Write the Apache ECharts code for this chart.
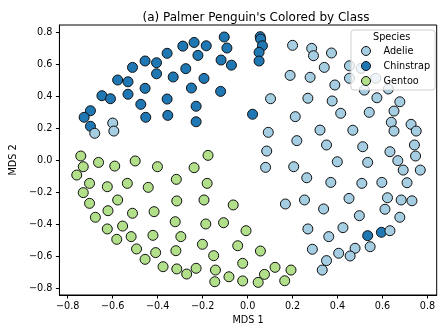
<!DOCTYPE html>
<html>
<head>
<meta charset="utf-8">
<script src="https://cdn.jsdelivr.net/npm/echarts@6/dist/echarts.min.js"></script>
<style>html,body{margin:0;padding:0;background:#fff}#c{width:448px;height:336px}</style>
</head>
<body>
<div id="c"></div>
<script>
const titleText = "(a) Palmer Penguin's Colored by Class";
const xName = "MDS 1";
const yName = "MDS 2";
const legendTitle = "Species";
const speciesNames = ["Adelie", "Chinstrap", "Gentoo"];
const tickValues = [-0.8, -0.6, -0.4, -0.2, 0.0, 0.2, 0.4, 0.6, 0.8];

const adelie = [
[-0.600,0.233],[-0.595,0.183],[-0.680,0.169],
[0.200,0.719],[0.189,0.531],[0.102,0.385],[0.212,0.273],[0.092,0.175],
[0.285,0.700],[0.293,0.654],[0.373,0.671],[0.341,0.581],[0.453,0.591],[0.505,0.575],
[0.278,0.519],[0.388,0.471],[0.453,0.513],[0.570,0.513],[0.519,0.439],[0.626,0.446],
[0.268,0.388],[0.376,0.371],[0.575,0.391],[0.677,0.366],
[0.414,0.294],[0.541,0.300],[0.651,0.308],
[0.322,0.189],[0.468,0.188],[0.639,0.238],[0.651,0.183],[0.727,0.225],[0.750,0.183],
[0.219,0.123],[0.351,0.096],[0.512,0.085],[0.742,0.096],[0.633,0.054],[0.747,0.027],
[0.668,-0.002],[0.399,-0.009],[0.534,-0.013],[0.205,-0.040],[0.692,-0.061],[0.768,-0.061],
[0.263,-0.109],[0.370,-0.138],[0.508,-0.144],[0.597,-0.138],[0.709,-0.140],
[0.253,-0.248],[0.451,-0.238],[0.622,-0.234],[0.683,-0.248],[0.731,-0.253],
[0.338,-0.304],[0.611,-0.306],[0.497,-0.346],[0.677,-0.356],
[0.268,-0.429],[0.424,-0.421],[0.361,-0.477],[0.633,-0.440],
[0.288,-0.556],[0.478,-0.550],[0.545,-0.540],[0.405,-0.581],[0.456,-0.598],[0.351,-0.627],[0.332,-0.686],
[0.085,0.058],[0.080,-0.044],[0.168,-0.273]
];

const chinstrap = [
[-0.288,0.714],[-0.358,0.669],[-0.456,0.621],[-0.405,0.610],[-0.512,0.581],[-0.275,0.573],
[-0.405,0.541],[-0.331,0.521],[-0.578,0.502],[-0.532,0.491],[-0.456,0.450],[-0.250,0.452],
[-0.648,0.404],[-0.610,0.385],[-0.532,0.413],[-0.358,0.383],[-0.475,0.350],[-0.699,0.310],
[-0.727,0.269],[-0.453,0.269],[-0.355,0.281],[-0.699,0.213],[-0.238,0.737],[-0.184,0.716],
[-0.221,0.656],[-0.104,0.771],[-0.092,0.702],[0.056,0.773],[0.058,0.758],[0.066,0.716],
[0.051,0.675],[0.051,0.621],[-0.118,0.627],[-0.072,0.595],[-0.194,0.512],[-0.120,0.431],
[-0.229,0.338],[-0.229,0.241],[0.022,0.288],[0.534,-0.471],[0.595,-0.450]
];

const gentoo = [
[-0.742,0.027],[-0.731,-0.040],[-0.760,-0.092],[-0.663,-0.013],[-0.591,-0.036],[-0.500,-0.004],[-0.401,-0.040],
[-0.176,0.031],[-0.238,-0.046],[-0.317,-0.119],[-0.180,-0.144],
[-0.703,-0.144],[-0.624,-0.165],[-0.535,-0.144],[-0.442,-0.169],[-0.731,-0.202],
[-0.703,-0.269],[-0.578,-0.248],[-0.315,-0.254],[-0.194,-0.248],[-0.064,-0.279],
[-0.621,-0.315],[-0.512,-0.331],[-0.416,-0.321],[-0.677,-0.356],
[-0.322,-0.384],[-0.186,-0.398],[-0.107,-0.390],[-0.007,-0.440],
[-0.624,-0.429],[-0.556,-0.411],[-0.582,-0.494],[-0.518,-0.477],[-0.421,-0.469],[-0.297,-0.477],
[-0.494,-0.554],[-0.409,-0.577],[-0.319,-0.565],[-0.456,-0.619],[-0.376,-0.665],[-0.315,-0.679],[-0.271,-0.711],
[-0.201,-0.525],[-0.151,-0.596],[-0.044,-0.534],[0.057,-0.567],
[-0.229,-0.675],[-0.143,-0.686],[-0.146,-0.759],[-0.083,-0.728],[-0.022,-0.644],[-0.022,-0.754],
[0.047,-0.763],[0.075,-0.713],[0.122,-0.669],[0.165,-0.753],[0.193,-0.686]
];

const colors = {Adelie: "#a6cee3", Chinstrap: "#1f78b4", Gentoo: "#b2df8a"};
const FONT = "DejaVu Sans";
const fmt = v => (v < 0 ? "\u2212" : "") + Math.abs(v).toFixed(1);

function mkSeries(name, data, z) {
  return {
    name: name, type: "scatter", data: data, symbol: "circle", symbolSize: 10, z: z,
    itemStyle: {color: colors[name], borderColor: "#111", borderWidth: 1, opacity: 1},
    emphasis: {disabled: true}, animation: false
  };
}

const chart = echarts.init(document.getElementById("c"), null, {renderer: "canvas"});
chart.setOption({
  animation: false,
  backgroundColor: "#fff",
  title: {text: titleText, left: 251, top: 7, textAlign: "center",
    textStyle: {fontFamily: FONT, fontSize: 12, fontWeight: "normal", color: "#000"}},
  grid: {left: 54.3, right: 11.3, top: 25, bottom: 41, show: true, borderColor: "#000", borderWidth: 1, containLabel: false},
  xAxis: {
    type: "value", min: -0.837, max: 0.841, name: xName, nameLocation: "middle", nameGap: 19,
    nameTextStyle: {fontFamily: FONT, fontSize: 9.7, color: "#000", verticalAlign: "top"},
    axisLine: {show: true, onZero: false, lineStyle: {color: "#000", width: 1}},
    axisTick: {show: true, inside: false, length: 3.5, lineStyle: {color: "#000"}, customValues: tickValues},
    axisLabel: {fontFamily: FONT, fontSize: 9.7, color: "#000", margin: 6, customValues: tickValues, formatter: fmt},
    splitLine: {show: false}
  },
  yAxis: {
    type: "value", min: -0.842, max: 0.846, name: yName, nameLocation: "middle", nameGap: 35, nameRotate: 90,
    nameTextStyle: {fontFamily: FONT, fontSize: 9.7, color: "#000"},
    axisLine: {show: true, onZero: false, lineStyle: {color: "#000", width: 1}},
    axisTick: {show: true, inside: false, length: 3.5, lineStyle: {color: "#000"}, customValues: tickValues},
    axisLabel: {fontFamily: FONT, fontSize: 9.7, color: "#000", margin: 7, customValues: tickValues, formatter: fmt},
    splitLine: {show: false}
  },
  legend: {
    data: speciesNames, orient: "vertical", left: 351, top: 30,
    padding: [16, 5, 4, 10], itemGap: 5, itemWidth: 9, itemHeight: 9,
    backgroundColor: "rgba(255,255,255,0.8)", borderColor: "#d0d0d0", borderWidth: 1, borderRadius: 3,
    itemStyle: {borderWidth: 1, borderColor: "#111"},
    textStyle: {fontFamily: FONT, fontSize: 9.7, color: "#000", padding: [0, 0, 0, 8]},
    icon: "circle", z: 10
  },
  graphic: [{type: "text", left: 373, top: 32, z: 100,
    style: {text: legendTitle, font: "9.7px 'DejaVu Sans'", fill: "#000"}}],
  series: [mkSeries("Chinstrap", chinstrap, 2), mkSeries("Gentoo", gentoo, 3), mkSeries("Adelie", adelie, 4)]
});
</script>
</body>
</html>
